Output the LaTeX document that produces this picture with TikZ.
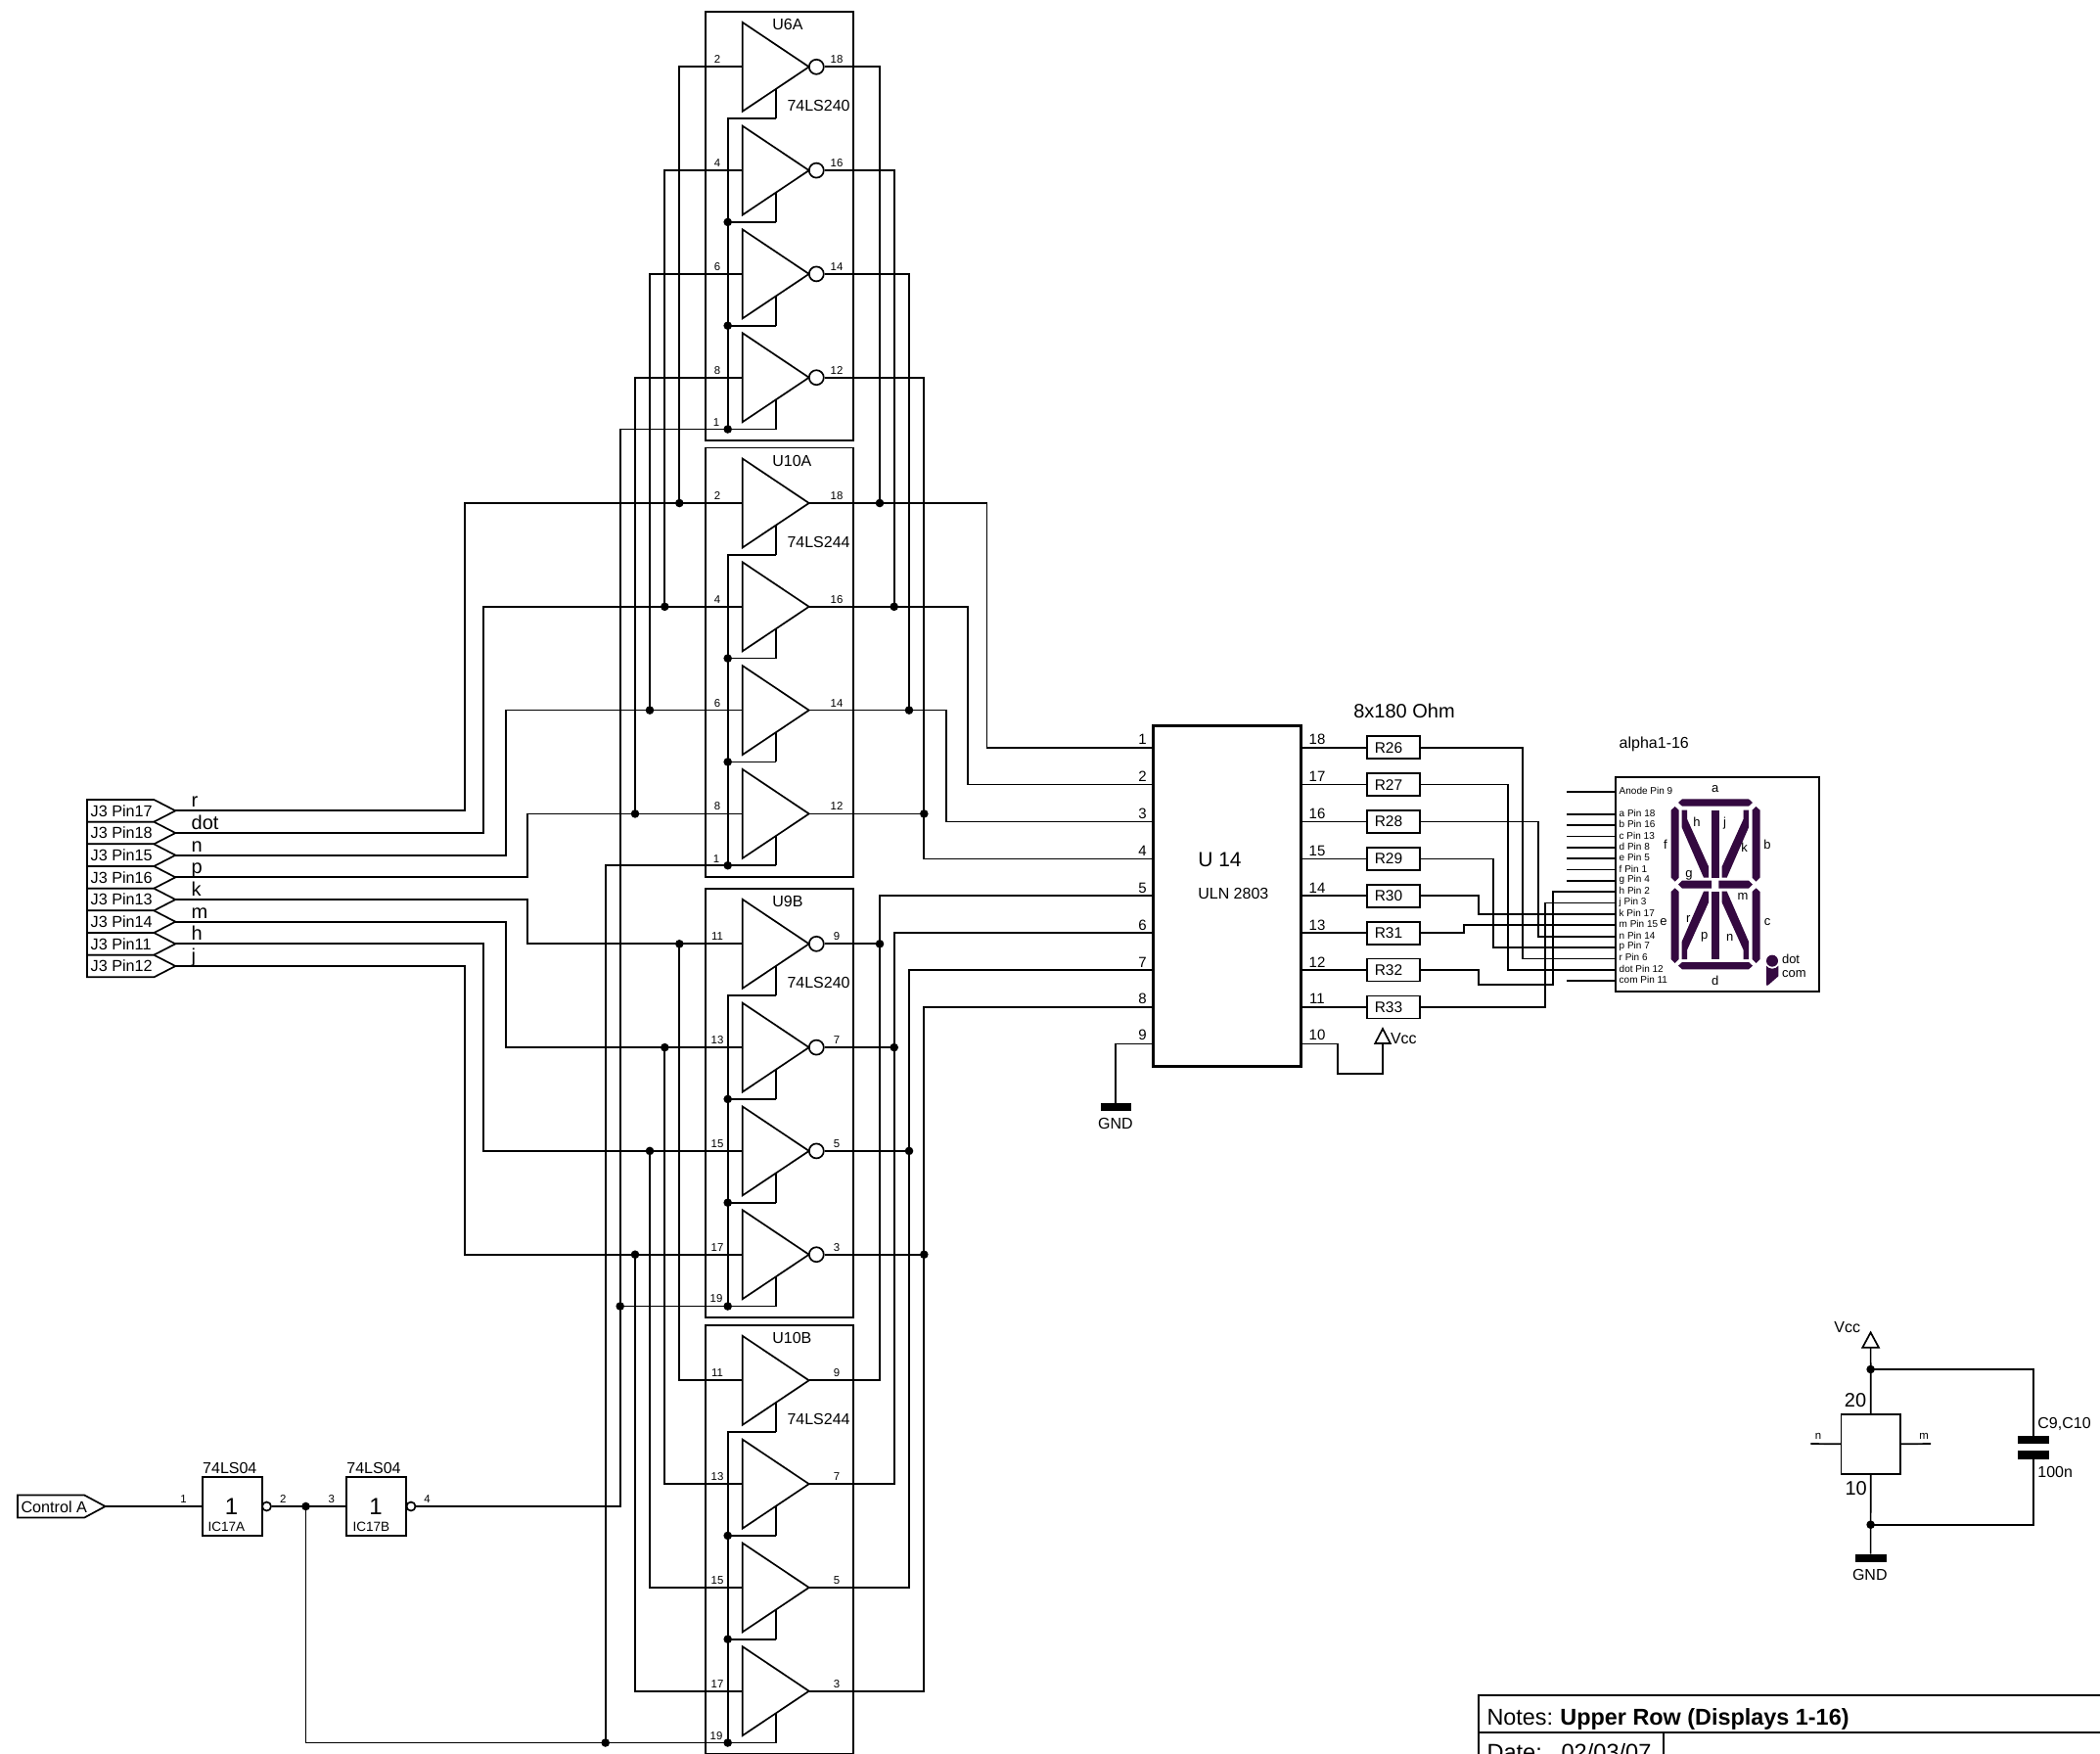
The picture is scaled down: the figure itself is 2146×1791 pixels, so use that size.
\documentclass[tikz,border=0pt]{standalone}
\usepackage{fontspec}
\setmainfont{Liberation Sans}
\usetikzlibrary{calc}
\newcommand{\fsz}[1]{\fontsize{#1}{#1}\selectfont}
\definecolor{seg}{HTML}{340940}
\tikzset{
  wire/.style={line width=1.7pt,line join=miter,line cap=butt},
  heavy/.style={line width=3pt},
  junction/.style={circle,fill=black,inner sep=0,minimum size=8.6pt},
  bubble/.style={circle,draw,line width=1.7pt,fill=white,inner sep=0,minimum size=15pt},
  smallbub/.style={circle,draw,line width=1.7pt,fill=white,inner sep=0,minimum size=9pt},
  txt/.style={inner sep=0,outer sep=0,text=black},
  tiny/.style={txt,font=\fsz{11.4},yshift=-0.8pt},
  tag/.style={txt,font=\fsz{16},yshift=-0.6pt},
  pinno/.style={txt,font=\fsz{15},yshift=-0.8pt},
  dpin/.style={txt,font=\fsz{10},anchor=west},
  seglbl/.style={txt,font=\fsz{13}},
  segment/.style={fill=seg,draw=none},
  bar/.style={fill=black,draw=none},
}
% name, first centre y, title, part, inverting, pin list
\newcommand{\ICblock}[6]{%
  \pgfmathsetmacro\topy{#2-56.6}
  \pgfmathsetmacro\boty{#2+381.7}
  \coordinate (#1-tl) at (720.7,\topy);
  \coordinate (#1-br) at (872.3,\boty);
  \draw[wire] (#1-tl) rectangle (#1-br);
  \node[tag,anchor=west] (#1-title) at (789.3,\topy+13) {#3};
  \node[tag,anchor=west] (#1-part) at (804.5,#2+39.4) {#4};
  \foreach \i/\pi/\po in {#6} {
    \pgfmathsetmacro\cy{#2+(\i-1)*105.8}
    \coordinate (#1-\i-in) at (758.7,\cy);
    \coordinate (#1-\i-apex) at (826.7,\cy);
    \coordinate (#1-\i-en) at (792.7,\cy+22.75);
    \coordinate (#1-\i-enb) at (792.7,\cy+52.8);
    \draw[wire] (#1-\i-in) ++(0,-45.5) -- (#1-\i-apex) -- ++(-68,45.5) -- cycle;
    \draw[wire] (#1-\i-en) -- (#1-\i-enb);
    \ifnum#5=1
      \node[bubble] (#1-\i-bub) at (834.3,\cy) {};
      \coordinate (#1-\i-out) at (#1-\i-bub.east);
    \else
      \coordinate (#1-\i-out) at (#1-\i-apex);
    \fi
    \node[tiny] (#1-\i-pi) at (733,\cy-8.2) {\pi};
    \node[tiny] (#1-\i-po) at (855,\cy-8.2) {\po};
  }
}
\newcommand{\Jconn}[5]{% id, y, text, name, 
  \coordinate (#1-tip) at (179.3,#2);
  \draw[wire,fill=white] (89,#2-11.33) -- (157.3,#2-11.33) -- (#1-tip) -- (157.3,#2+11.33) -- (89,#2+11.33) -- cycle;
  \node[txt,font=\fsz{16.2},anchor=west] (#1-t) at (92.7,#2) {#3};
  \node[txt,font=\fsz{20},anchor=base west] (#1-n) at (195.7,#2-3.7) {#4};
}
\begin{document}
\begin{tikzpicture}[x=1pt,y=-1pt]
\useasboundingbox (0,0) rectangle (2146,1791);
\clip (0,0) rectangle (2146,1791);
\fill[white] (0,0) rectangle (2146,1791);

% rails
\coordinate (L1) at (694.3,0); \coordinate (L2) at (679.3,0);
\coordinate (L3) at (664,0);   \coordinate (L4) at (649,0);
\coordinate (R1) at (899,0);   \coordinate (R2) at (913.7,0);
\coordinate (R3) at (929,0);   \coordinate (R4) at (944.3,0);
\coordinate (bus) at (743.7,0);
\coordinate (enA) at (633.7,0); \coordinate (enB) at (618.7,0);
\coordinate (B1) at (475,0);   \coordinate (B2) at (493.8,0);
\coordinate (B3) at (516.7,0); \coordinate (B4) at (539,0);
\coordinate (T1) at (1008.6,0); \coordinate (T2) at (989,0);
\coordinate (T3) at (966.7,0);

% IC blocks
\ICblock{U6A}{68.3}{U6A}{74LS240}{1}{1/2/18,2/4/16,3/6/14,4/8/12}
\ICblock{U10A}{514}{U10A}{74LS244}{0}{1/2/18,2/4/16,3/6/14,4/8/12}
\ICblock{U9B}{964.3}{U9B}{74LS240}{1}{1/11/9,2/13/7,3/15/5,4/17/3}
\ICblock{U10B}{1410.3}{U10B}{74LS244}{0}{1/11/9,2/13/7,3/15/5,4/17/3}
\node[tiny] (U6A-en-t) at (732,430.5) {1};
\node[tiny] (U10A-en-t) at (732,876.5) {1};
\node[tiny] (U9B-en-t) at (732,1326) {19};
\node[tiny] (U10B-en-t) at (732,1772.5) {19};

% enable buses
\foreach \U in {U6A,U10A,U9B,U10B} {
  \draw[wire] (\U-1-enb) -- (bus |- \U-1-enb) -- (bus |- \U-4-enb);
  \foreach \i in {2,3} {
    \draw[wire] (\U-\i-enb) -- (bus |- \U-\i-enb);
    \node[junction] (\U-\i-j) at (bus |- \U-\i-enb) {};
  }
  \node[junction] (\U-4-j) at (bus |- \U-4-enb) {};
}

% U14
\node[draw,heavy,inner sep=0,outer sep=0,minimum width=151.7pt,minimum height=348pt] (U14) at (1253.85,915) {};
\node[txt,font=\fsz{21},anchor=west] (U14-a) at (1224.3,878) {U 14};
\node[tag,anchor=west] (U14-b) at (1224.3,912.7) {ULN 2803};
\foreach \i/\r/\n in {1/18/26,2/17/27,3/16/28,4/15/29,5/14/30,6/13/31,7/12/32,8/11/33} {
  \pgfmathsetmacro\py{763.7+(\i-1)*37.9}
  \coordinate (PL\i) at (1178,\py);
  \coordinate (PR\i) at (1329.7,\py);
  \node[pinno] (PLt\i) at (1167.5,\py-9) {\i};
  \node[pinno] (PRt\i) at (1346,\py-9) {\r};
  \node[draw,wire,fill=white,inner sep=0,outer sep=0,minimum width=53.4pt,minimum height=23pt] (R\n) at (1424,\py) {};
  \node[txt,font=\fsz{15.5}] (Rt\n) at (1419,\py) {R\n};
  \draw[wire] (PR\i) -- (R\n.west);
}
\coordinate (PL9) at (1178,1066.6);
\coordinate (PR10) at (1329.7,1066.6);
\node[pinno] (PLt9) at (1167.5,1057) {9};
\node[pinno] (PRt10) at (1346,1057) {10};
\node[txt,font=\fsz{20}] (Rnote) at (1435,726) {8x180 Ohm};

% channel wiring
\foreach \i/\Bx/\bendx in {1/B1/T1,2/B2/T2,3/B3/T3} {
  \draw[wire] (U10A-\i-apex) -- (\bendx |- U10A-\i-apex) -- (\bendx |- PL\i) -- (PL\i);
}
\draw[wire] (U10A-4-apex) -- (R4 |- U10A-4-apex) -- (R4 |- PL4) -- (PL4);
\foreach \i in {1,2,3,4} {
  \draw[wire] (U6A-\i-in) -- (L\i |- U6A-\i-in) -- (L\i |- U10A-\i-in);
  \draw[wire] (U6A-\i-out) -- (R\i |- U6A-\i-out) -- (R\i |- U10A-\i-apex);
  \draw[wire] (U9B-\i-in) -- (L\i |- U9B-\i-in) -- (L\i |- U10B-\i-in) -- (U10B-\i-in);
  \draw[wire] (U9B-\i-out) -- (R\i |- U9B-\i-out);
  \pgfmathtruncatemacro\pn{\i+4}
  \draw[wire] (PL\pn) -- (R\i |- PL\pn) -- (R\i |- U10B-\i-apex) -- (U10B-\i-apex);
  \node[junction] (JLa\i) at (L\i |- U10A-\i-in) {};
  \node[junction] (JRa\i) at (R\i |- U10A-\i-apex) {};
  \node[junction] (JLb\i) at (L\i |- U9B-\i-in) {};
  \node[junction] (JRb\i) at (R\i |- U9B-\i-apex) {};
}

% J3 connectors
\Jconn{J1}{828.3}{J3 Pin17}{r}{}
\Jconn{J2}{851}{J3 Pin18}{dot}{}
\Jconn{J3}{873.7}{J3 Pin15}{n}{}
\Jconn{J4}{896.3}{J3 Pin16}{p}{}
\Jconn{J5}{919}{J3 Pin13}{k}{}
\Jconn{J6}{941.7}{J3 Pin14}{m}{}
\Jconn{J7}{964.3}{J3 Pin11}{h}{}
\Jconn{J8}{987}{J3 Pin12}{j}{}
\foreach \j/\b/\i in {1/B1/1,2/B2/2,3/B3/3,4/B4/4} {
  \draw[wire] (J\j-tip) -- (\b |- J\j-tip) -- (\b |- U10A-\i-in) -- (U10A-\i-in);
}
\draw[wire] (J5-tip) -- (B4 |- J5-tip) -- (B4 |- U9B-1-in) -- (U9B-1-in);
\draw[wire] (J6-tip) -- (B3 |- J6-tip) -- (B3 |- U9B-2-in) -- (U9B-2-in);
\draw[wire] (J7-tip) -- (B2 |- J7-tip) -- (B2 |- U9B-3-in) -- (U9B-3-in);
\draw[wire] (J8-tip) -- (B1 |- J8-tip) -- (B1 |- U9B-4-in) -- (U9B-4-in);

% Control A and inverters
\coordinate (ctl-tip) at (107.6,1539);
\draw[wire] (18,1527.5) -- (86.2,1527.5) -- (ctl-tip) -- (86.2,1550.5) -- (18,1550.5) -- cycle;
\node[txt,font=\fsz{16.2},anchor=west] (ctl-t) at (21.5,1539.6) {Control A};
\node[draw,wire,inner sep=0,outer sep=0,minimum width=61pt,minimum height=60.6pt] (IC17A) at (237.3,1539) {};
\node[draw,wire,inner sep=0,outer sep=0,minimum width=61pt,minimum height=60.6pt] (IC17B) at (384.5,1539) {};
\node[txt,font=\fsz{24}] (IC17A-1) at (236.6,1539) {1};
\node[txt,font=\fsz{24}] (IC17B-1) at (384,1539) {1};
\node[txt,font=\fsz{13.5},anchor=west] (IC17A-n) at (212.5,1560) {IC17A};
\node[txt,font=\fsz{13.5},anchor=west] (IC17B-n) at (360.7,1560) {IC17B};
\node[tag] (IC17A-p) at (234.8,1499.3) {74LS04};
\node[tag] (IC17B-p) at (382,1499.3) {74LS04};
\node[smallbub] (IC17A-b) at (272.5,1539) {};
\node[smallbub] (IC17B-b) at (420,1539) {};
\node[tiny] (p1) at (187.5,1530.5) {1};
\node[tiny] (p2) at (289.3,1530.5) {2};
\node[tiny] (p3) at (338.8,1530.5) {3};
\node[tiny] (p4) at (436.6,1530.5) {4};
\coordinate (clk) at (312.5,1539);
\draw[wire] (ctl-tip) -- (IC17A.west);
\draw[wire] (IC17A-b.east) -- (IC17B.west);
\draw[wire] (IC17B-b.east) -- (enA |- IC17B-b) -- (enA |- U6A-4-enb) -- (U6A-4-enb);
\draw[wire] (enA |- U9B-4-enb) -- (U9B-4-enb);
\draw[wire] (clk) -- (clk |- U10B-4-enb) -- (U10B-4-enb);
\draw[wire] (U10A-4-enb) -- (enB |- U10A-4-enb) -- (enB |- U10B-4-enb);
\node[junction] (Jclk) at (clk) {};
\node[junction] (JenA) at (enA |- U9B-4-enb) {};
\node[junction] (JenB) at (enB |- U10B-4-enb) {};

% U14 power
\coordinate (gndtop) at (1140.3,1126.7);
\draw[wire] (PL9) -- (gndtop |- PL9) -- (gndtop);
\fill[bar] (1124.7,1126.7) rectangle (1156.3,1135);
\node[tag] (gnd1) at (1140,1147) {GND};
\coordinate (vcc1) at (1413,1066);
\coordinate (kink) at (1367.3,1096.7);
\draw[wire] (PR10) -- (kink |- PR10) -- (kink) -- (vcc1 |- kink) -- (vcc1);
\draw[wire] (1405.2,1066) -- (1413,1051) -- (1420.8,1066) -- cycle;
\node[tag,anchor=west] (vcc1t) at (1421,1060.5) {Vcc};

% display
\node[draw,wire,inner sep=0,outer sep=0,minimum width=208.3pt,minimum height=219pt] (disp) at (1754.85,903.8) {};
\node[tag,anchor=west] (alpha) at (1654.7,759.5) {alpha1-16};
\coordinate (DAn) at (1650.7,809);
\draw[wire] (1601.3,809) -- (DAn);
\node[dpin] (DAnt) at (1654.7,807.8) {Anode Pin 9};
\foreach \k/\t/\n in {0/a Pin 18/a,1/b Pin 16/b,2/c Pin 13/c,3/d Pin 8/d,4/e Pin 5/e,5/f Pin 1/f,6/g Pin 4/g,7/h Pin 2/h,8/j Pin 3/j,9/k Pin 17/k,10/m Pin 15/m,11/n Pin 14/n,12/p Pin 7/p,13/r Pin 6/r,14/dot Pin 12/dot,15/com Pin 11/com} {
  \pgfmathsetmacro\dy{831.7+\k*11.36}
  \coordinate (D\n) at (1650.7,\dy);
  \draw[wire] (1601.3,\dy) -- (D\n);
  \node[dpin] (Dt\n) at (1654.7,\dy-1) {\t};
}
% resistor to display
\coordinate (X26) at (1556.3,0); \coordinate (X27) at (1541.3,0);
\coordinate (X28) at (1571.7,0); \coordinate (X29) at (1526.3,0);
\coordinate (X30) at (1511,0);   \coordinate (X31) at (1496,0);
\coordinate (X33) at (1579,0);   \coordinate (X32) at (1586.7,0);
\foreach \n/\t in {26/r,27/dot,28/n,29/p,30/k,31/m,33/j} {
  \draw[wire] (R\n.east) -- (X\n |- R\n.east) -- (X\n |- D\t) -- (D\t);
}
\coordinate (kink32) at (1511,1005.7);
\draw[wire] (R32.east) -- (kink32 |- R32.east) -- (kink32) -- (X32 |- kink32) -- (X32 |- Dh) -- (Dh);

% segments
\begin{scope}[shift={(1600,780)},x=0.33333pt,y=-0.33333pt]
  \fill[segment] (345,120) -- (357,109) -- (561,109) -- (573,120) -- (561,131) -- (357,131) -- cycle;
  \fill[segment] (345,620) -- (357,609) -- (561,609) -- (573,620) -- (561,631) -- (357,631) -- cycle;
  \fill[segment] (345,371) -- (357,359) -- (447,359) -- (447,383) -- (357,383) -- cycle;
  \fill[segment] (573,371) -- (561,359) -- (469,359) -- (469,383) -- (561,383) -- cycle;
  \foreach \vx in {335,583.5} {
    \fill[segment] (\vx,132) -- (\vx+12,143) -- (\vx+12,350) -- (\vx,362) -- (\vx-12,350) -- (\vx-12,143) -- cycle;
    \fill[segment] (\vx,382) -- (\vx+12,393) -- (\vx+12,600) -- (\vx,612) -- (\vx-12,600) -- (\vx-12,393) -- cycle;
  }
  \fill[segment] (447,143) rectangle (470,350);
  \fill[segment] (447,392) rectangle (470,600);
  \fill[segment] (356,143) -- (372,143) -- (372,170) -- (438,316) -- (438,350) -- (423,350) -- (356,196) -- cycle;
  \fill[segment] (561,143) -- (545,143) -- (545,170) -- (479,316) -- (479,350) -- (494,350) -- (561,196) -- cycle;
  \fill[segment] (438,392) -- (423,392) -- (356,546) -- (356,600) -- (372,600) -- (372,572) -- (438,426) -- cycle;
  \fill[segment] (479,392) -- (494,392) -- (561,546) -- (561,600) -- (545,600) -- (545,572) -- (479,426) -- cycle;
  \fill[segment] (633,605) circle[radius=18];
  \fill[segment] (615,620) .. controls (622,632) and (644,632) .. (652,620) -- (652,652) -- (620,680) -- (615,680) -- cycle;
  \foreach \lx/\ly/\lt in {458/78/a,488/182/j,402/180/h,306/248/f,548/258/k,618/250/b,378/342/g,543/408/m,300/487/e,376/476/r,618/487/c,425/533/p,503/533/n,458/667/d} {
    \node[seglbl] (S\lt) at (\lx,\ly) {\lt};
  }
  \node[seglbl,anchor=west] (Sdot) at (663,600) {dot};
  \node[seglbl,anchor=west] (Scom) at (663,645) {com};
\end{scope}

% decoupling
\coordinate (pwrtop) at (1911.6,1399);
\coordinate (pwrbot) at (1911.6,1557.7);
\coordinate (capx) at (2078,0);
\node[draw,wire,fill=white,inner sep=0,outer sep=0,minimum width=60.6pt,minimum height=60.7pt] (DEC) at (1911.7,1475.3) {};
\draw[wire] (1903.3,1376.7) -- (1911.6,1361.3) -- (1919.9,1376.7) -- cycle;
\coordinate (vcc2) at (1911.6,1376.7);
\draw[wire] (vcc2) -- (DEC.north);
\draw[wire] (DEC.south) -- (pwrbot) -- (pwrbot |- 0,1587.7);
\fill[bar] (1895.5,1587.7) rectangle (1928,1596.3);
\node[tag] (gnd2) at (1910.8,1608.7) {GND};
\node[tag] (vcc2t) at (1887.8,1355.3) {Vcc};
\node[txt,font=\fsz{20}] (t20) at (1896,1430.6) {20};
\node[txt,font=\fsz{20}] (t10) at (1896.7,1520.7) {10};
\coordinate (nfree) at (1850.4,1475);
\coordinate (mfree) at (1973,1475);
\draw[wire] (nfree) -- (DEC.west);
\draw[wire] (DEC.east) -- (mfree);
\node[tiny] (tn) at (1858,1467) {n};
\node[tiny] (tm) at (1966,1467) {m};
\coordinate (capa) at (2078,1466.7);
\coordinate (capb) at (2078,1490.7);
\draw[wire] (pwrtop) -- (capx |- pwrtop) -- (capa);
\draw[wire] (pwrbot) -- (capx |- pwrbot) -- (capb);
\fill[bar] (2062,1466.7) rectangle (2094,1475.3);
\fill[bar] (2062,1481.7) rectangle (2094,1490.7);
\node[tag,anchor=west] (Cn) at (2082.4,1454.5) {C9,C10};
\node[tag,anchor=west] (Cv) at (2082.4,1503.5) {100n};
\node[junction] (Jp) at (pwrtop) {};
\node[junction] (Jq) at (pwrbot) {};

% title block
\draw[wire] (2160,1731.7) -- (1511,1731.7) -- (1511,1800);
\draw[wire] (1511,1770.3) -- (2160,1770.3);
\draw[wire] (1700,1770.3) -- (1700,1800);
\node[txt,font=\fsz{23.4},anchor=base west] (notes) at (1519.5,1762) {Notes:\hspace{-0.06em} \textbf{Upper Row (Displays 1-16)}};
\node[txt,font=\fsz{23.6},anchor=base west] (date) at (1519.5,1798.8) {Date:\ \ \ 02/03/07};
\end{tikzpicture}
\end{document}
